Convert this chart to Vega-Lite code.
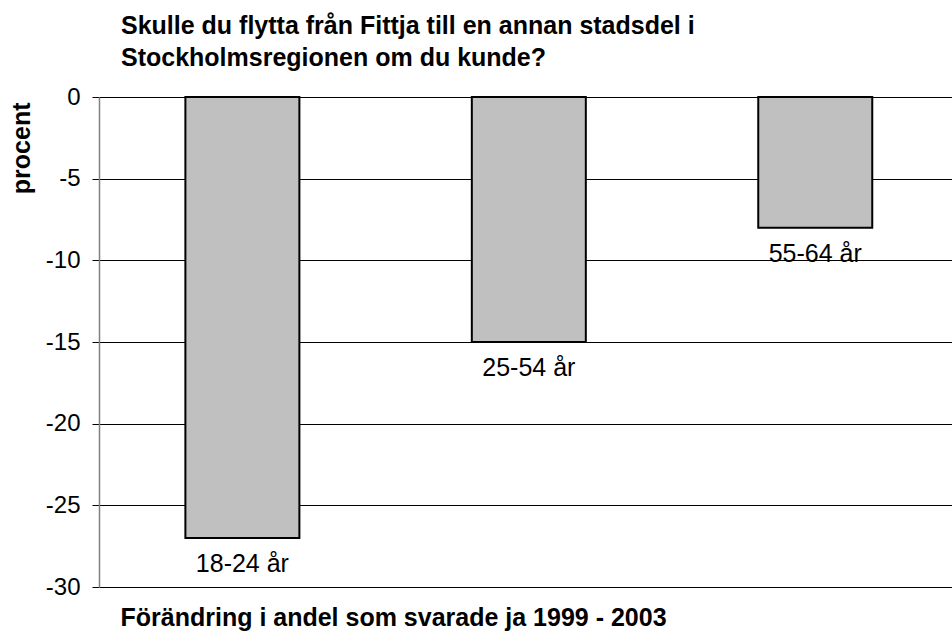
{
  "$schema": "https://vega.github.io/schema/vega-lite/v6.json",
  "width": 853,
  "height": 490,
  "autosize": "none",
  "padding": {"left": 99, "top": 97, "right": 0, "bottom": 47},
  "background": "white",
  "config": {
    "font": "Liberation Sans",
    "view": {"stroke": null}
  },
  "title": {
    "text": ["Skulle du flytta från Fittja till en annan stadsdel i", "Stockholmsregionen om du kunde?"],
    "anchor": "start",
    "frame": "group",
    "dx": 22,
    "offset": 14,
    "fontSize": 25,
    "fontWeight": "bold",
    "font": "Liberation Sans",
    "color": "black",
    "lineHeight": 32
  },
  "data": {
    "values": [
      {"grupp": "18-24 år", "varde": -27},
      {"grupp": "25-54 år", "varde": -15},
      {"grupp": "55-64 år", "varde": -8}
    ]
  },
  "encoding": {
    "x": {
      "field": "grupp",
      "type": "nominal",
      "sort": null,
      "scale": {"paddingInner": 0.602, "paddingOuter": 0.29, "align": 0.52},
      "axis": {
        "title": "Förändring i andel som svarade ja 1999 - 2003",
        "labels": false,
        "ticks": false,
        "domain": false,
        "titleFont": "Liberation Sans",
        "titleFontSize": 25,
        "titleFontWeight": "bold",
        "titleColor": "black",
        "titleAnchor": "start",
        "titleAlign": "left",
        "titleX": 21,
        "titleY": 38,
        "titleBaseline": "alphabetic"
      }
    }
  },
  "layer": [
    {
      "mark": {"type": "bar", "fill": "#c0c0c0", "stroke": "black", "strokeWidth": 2},
      "encoding": {
        "y": {
          "field": "varde",
          "type": "quantitative",
          "scale": {"domain": [-30, 0], "nice": false},
          "axis": {
            "values": [-30, -25, -20, -15, -10, -5, 0],
            "labelExpr": "datum.value + ''",
            "title": "procent",
            "titleFont": "Liberation Sans",
            "titleFontSize": 25,
            "titleFontWeight": "bold",
            "titleColor": "black",
            "titleAngle": -90,
            "titleAlign": "right",
            "titleBaseline": "alphabetic",
            "titleX": -70,
            "titleY": 5,
            "labelFont": "Liberation Sans",
            "labelFontSize": 24,
            "labelColor": "black",
            "labelPadding": 12,
            "tickSize": 7,
            "tickColor": "black",
            "domainColor": "#808080",
            "domainWidth": 1.5,
            "grid": true,
            "gridColor": "black",
            "gridWidth": 1
          }
        }
      }
    },
    {
      "mark": {"type": "text", "baseline": "top", "dy": 14, "fontSize": 25, "font": "Liberation Sans", "color": "black"},
      "encoding": {
        "y": {"field": "varde", "type": "quantitative"},
        "text": {"field": "grupp"}
      }
    }
  ]
}
